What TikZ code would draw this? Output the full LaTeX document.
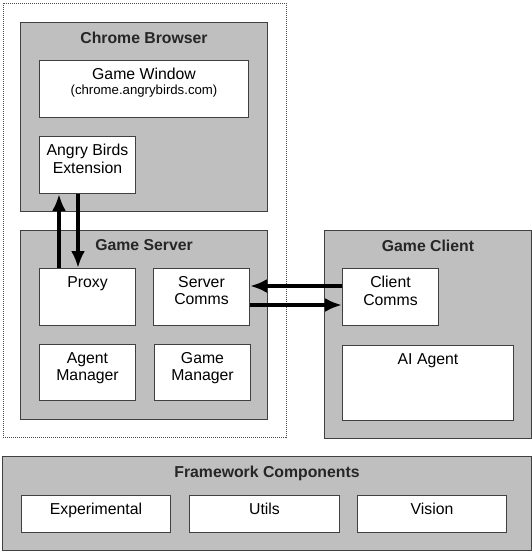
\documentclass[tikz,border=0pt]{standalone}
\usepackage{fontspec}
\setmainfont{Liberation Sans}
\usetikzlibrary{arrows.meta, positioning}

\begin{document}
\begin{tikzpicture}[x = 1pt, y = -1pt, node distance = 19pt and 17pt]
        \tikzstyle{boundary} = [rectangle, draw = black!70, dash pattern = on 1pt off 1pt, anchor = north west, inner sep = 0pt]
        \tikzstyle{group} = [rectangle, draw = black!75, fill = black!25, line width = 1pt, anchor = north west, inner sep = 0pt]
        \tikzstyle{comp} = [rectangle, draw = black!75, fill = white, line width = 1pt, anchor = north west, inner sep = 0pt, minimum width = 96pt, minimum height = 57pt]
        \tikzstyle{grouptitle} = [font = \bfseries\fontsize{15.8}{17.6}\selectfont, text = black!85, inner sep = 0pt, label distance = 0pt, anchor = north, yshift = -9.5pt]
        \tikzstyle{compname} = [font = \fontsize{15.8}{17.6}\selectfont, align = center, inner sep = 0pt, label distance = 0pt, anchor = north, yshift = -8pt]
        \tikzstyle{connect} = [-{Latex[length = 17pt, width = 14pt]}, line width = 3.5pt]
        \useasboundingbox (0,0) rectangle (532,552);
        \node[boundary, minimum width = 283pt, minimum height = 434pt] (browserside) at (3,3) {};
        \node[group, minimum width = 247pt, minimum height = 189pt, label = {[grouptitle]above:Chrome Browser}] (chrome) at (20,22) {};
        \node[comp, minimum width = 209pt, label = {[compname]above:{Game Window\\[-2.6pt]{\fontsize{13.2}{15}\selectfont (chrome.angrybirds.com)}}}] (window) at (39,60) {};
        \node[comp, label = {[compname]above:{Angry Birds\\Extension}}] (ext) at (39,136) {};
        \node[group, minimum width = 247pt, minimum height = 189pt, label = {[grouptitle]above:Game Server}] (server) at (20,230) {};
        \node[comp, label = {[compname]above:Proxy}] (proxy) at (39,268) {};
        \node[comp, right = of proxy, label = {[compname]above:{Server\\Comms}}] (servercomms) {};
        \node[comp, minimum height = 56pt, label = {[compname]above:{Agent\\Manager}}] (agentmgr) at (39,344) {};
        \node[comp, minimum height = 56pt, right = 18pt of agentmgr, label = {[compname]above:{Game\\Manager}}] (gamemgr) {};
        \node[group, minimum width = 207pt, minimum height = 208pt, label = {[grouptitle]above:Game Client}] (client) at (324,230) {};
        \node[comp, label = {[compname]above:{Client\\Comms}}] (clientcomms) at (342,268) {};
        \node[comp, minimum width = 171pt, minimum height = 75pt, below = of clientcomms.south west, anchor = north west, label = {[compname]above:AI Agent}] (agent) {};
        \node[group, minimum width = 529pt, minimum height = 94pt, label = {[grouptitle]above:Framework Components}] (framework) at (2,456) {};
        \node[comp, minimum width = 149pt, minimum height = 37pt, label = {[compname]above:Experimental}] (experimental) at (21,495) {};
        \node[comp, minimum width = 150pt, minimum height = 37pt, right = 18pt of experimental, label = {[compname]above:Utils}] (utils) {};
        \node[comp, minimum width = 149pt, minimum height = 37pt, right = 17pt of utils, label = {[compname]above:Vision}] (vision) {};
        \draw[connect] ([xshift = 20pt]proxy.north west) -- ([xshift = 20pt]ext.south west);
        \draw[connect] ([xshift = 39pt]ext.south west) -- ([xshift = 39pt]proxy.north west);
        \draw[connect] ([yshift = -18pt]clientcomms.north west) -- ([yshift = -18pt]servercomms.north east);
        \draw[connect] ([yshift = -37pt]servercomms.north east) -- ([yshift = -37pt]clientcomms.north west);
      \end{tikzpicture}
\end{document}
